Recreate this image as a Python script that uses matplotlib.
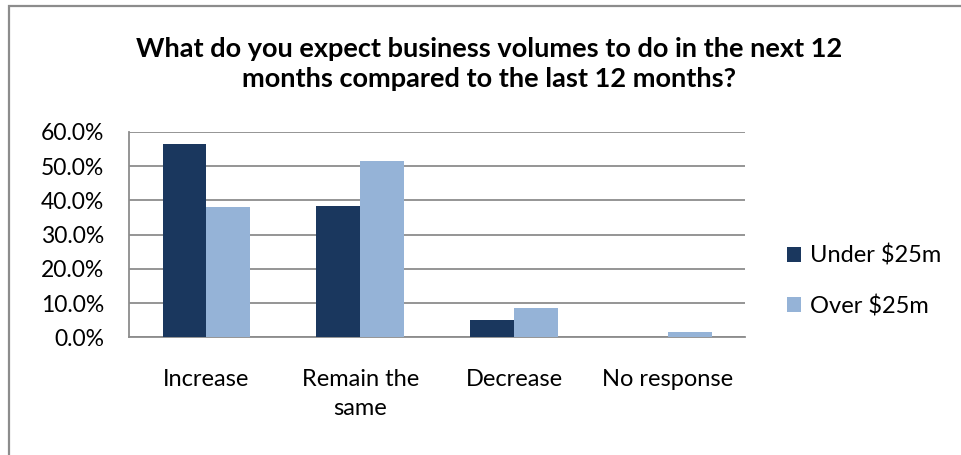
import matplotlib.pyplot as plt
import numpy as np
from matplotlib.patches import Rectangle
from matplotlib.ticker import FuncFormatter

plt.rcParams['font.family'] = ['Lato', 'DejaVu Sans']

categories = ['Increase', 'Remain the\nsame', 'Decrease', 'No response']
under_25m = [56.4, 38.4, 5.1, 0.0]
over_25m = [38.1, 51.5, 8.7, 1.5]
series_names = ['Under $25m', 'Over $25m']

dark = '#1A375E'
light = '#95B3D7'
grid = '#8C8C8C'

fig = plt.figure(figsize=(9.62, 4.55), dpi=100)
# outer chart frame (only the left and top edges fall inside the image)
fig.patches.append(Rectangle((9 / 962, -0.1), 1.1, (455 - 6) / 455 + 0.1,
                             transform=fig.transFigure, fill=False,
                             edgecolor='#8C8C8C', linewidth=1.6))

ax = fig.add_axes([129.3 / 962, 117.7 / 455, 615.7 / 962, 205.3 / 455])
x = np.arange(len(categories))
w = 0.284
ax.bar(x - w / 2, under_25m, w, color=dark, label=series_names[0], zorder=3)
ax.bar(x + w / 2, over_25m, w, color=light, label=series_names[1], zorder=3)

ax.set_xlim(-0.5, 3.5)
ax.set_ylim(0, 60)
ax.set_yticks(np.arange(0, 61, 10))
ax.yaxis.set_major_formatter(FuncFormatter(lambda v, p: '%.1f%%' % v))
ax.yaxis.grid(True, color=grid, linewidth=1.3, zorder=0)
ax.set_xticks(x)
ax.set_xticklabels(categories, linespacing=1.45)
ax.tick_params(axis='y', length=0, pad=18, labelsize=16.5)
ax.tick_params(axis='x', length=0, pad=23, labelsize=17)
for s in ['top', 'right']:
    ax.spines[s].set_visible(False)
for s in ['left', 'bottom']:
    ax.spines[s].set_color(grid)
    ax.spines[s].set_linewidth(1.3)

fig.text(489 / 962, 1 - 64 / 455,
         'What do you expect business volumes to do in the next 12\nmonths compared to the last 12 months?',
         ha='center', va='center', fontsize=19.5, fontweight='bold', linespacing=1.3)

ax.legend(loc='center left', bbox_to_anchor=(787 / 962, 1 - 281 / 455),
          bbox_transform=fig.transFigure, frameon=False, fontsize=17,
          handlelength=0.6, handleheight=0.6, handletextpad=0.36,
          labelspacing=1.2, borderpad=0, borderaxespad=0)

fig.savefig('out.png', dpi=100)
